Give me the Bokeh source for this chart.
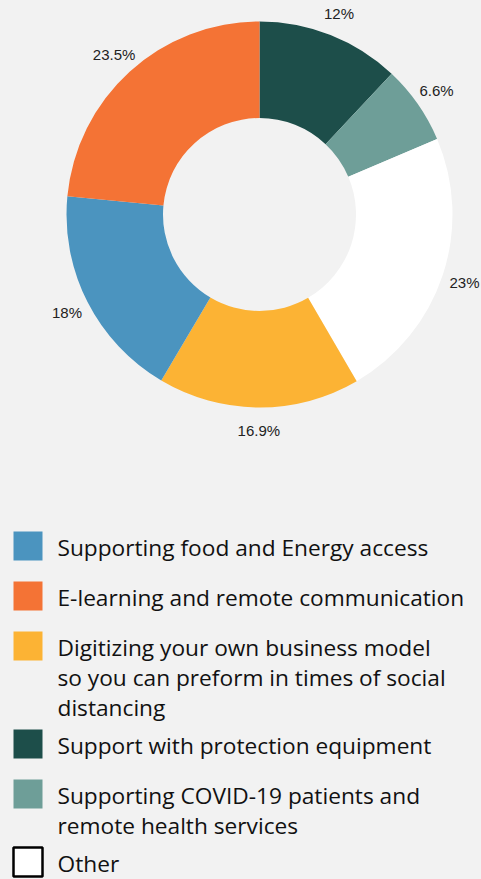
import math
from bokeh.plotting import figure
from bokeh.models import ColumnDataSource, Range1d, GlobalInlineStyleSheet
from bokeh.core.properties import value
from bokeh.embed import file_html
from bokeh.resources import INLINE

# ---- data ----
slice_names = ["Support with protection equipment",
               "Supporting COVID-19 patients and remote health services",
               "Other",
               "Digitizing your own business model",
               "Supporting food and Energy access",
               "E-learning and remote communication"]
slice_values = [12, 6.6, 23, 16.9, 18, 23.5]
slice_labels = ["12%", "6.6%", "23%", "16.9%", "18%", "23.5%"]
slice_colors = ["#1D4E4A", "#6E9E98", "#FFFFFF", "#FCB334", "#4B94BF", "#F47335"]

legend_names = ["Supporting food and Energy access",
                "E-learning and remote communication",
                "Digitizing your own business model",
                "Support with protection equipment",
                "Supporting COVID-19 patients and remote health services",
                "Other"]
legend_texts = ["Supporting food and Energy access",
                "E-learning and remote communication",
                "Digitizing your own business model\nso you can preform in times of social\ndistancing",
                "Support with protection equipment",
                "Supporting COVID-19 patients and\nremote health services",
                "Other"]

# ---- layout ----
W, H = 481, 879
BG = "#F2F2F2"
def Y(page_y):
    return H - page_y
def X(page_x):
    return page_x

cx, cy = X(259), Y(214)
r_out, r_in = 193, 96.5
r_lab = 216

p = figure(width=W, height=H, output_backend="svg", toolbar_location=None,
           x_range=Range1d(0, W), y_range=Range1d(0, H),
           background_fill_color=BG, border_fill_color=BG,
           min_border=0, outline_line_color=None)
p.axis.visible = False
p.grid.visible = False
p.stylesheets = [GlobalInlineStyleSheet(css="body{background:#f2f2f2;}")]

total = sum(slice_values)
starts, ends, lx, ly = [], [], [], []
cum = 0.0
for v in slice_values:
    a0 = math.pi / 2 - 2 * math.pi * (cum + v) / total
    a1 = math.pi / 2 - 2 * math.pi * cum / total
    starts.append(a0)
    ends.append(a1)
    mid = (a0 + a1) / 2
    lx.append(cx + r_lab * math.cos(mid))
    ly.append(cy + r_lab * math.sin(mid))
    cum += v

src = ColumnDataSource(dict(start=starts, end=ends, color=slice_colors,
                            lx=lx, ly=ly, label=slice_labels, name=slice_names))
p.annular_wedge(x=cx, y=cy, inner_radius=r_in, outer_radius=r_out,
                start_angle="start", end_angle="end", fill_color="color",
                line_color=None, source=src)
p.text(x="lx", y="ly", text="label", source=src, text_align="center",
       text_baseline="middle", text_font=value("Liberation Sans"),
       text_font_size="15px", text_color="#222222")

# ---- legend ----
color_of = dict(zip(slice_names, slice_colors))
first_mid = 547
line_h = 30
sq = 29
gap_single = 21
gap_multi = 8
sx, sy, sc, slc = [], [], [], []
tx, ty, tt = [], [], []
mid = first_mid
for name, txt in zip(legend_names, legend_texts):
    lines = txt.split("\n")
    col = color_of[name]
    sx.append(X(13 + sq / 2))
    sy.append(Y(mid - 16 + sq / 2))
    sc.append(col)
    slc.append("#000000" if col.upper() == "#FFFFFF" else None)
    for i, ln in enumerate(lines):
        tx.append(X(57))
        ty.append(Y(mid + i * line_h))
        tt.append(ln)
    mid += max(sq + gap_single, len(lines) * line_h + gap_multi)

sq_src = ColumnDataSource(dict(x=sx, y=sy, color=sc, lc=slc))
p.rect(x="x", y="y", width=sq, height=sq, fill_color="color",
       line_color="lc", line_width=2.5, source=sq_src)
txt_src = ColumnDataSource(dict(x=tx, y=ty, t=tt))
p.text(x="x", y="y", text="t", source=txt_src, text_align="left",
       text_baseline="middle", text_font=value("Open Sans"),
       text_font_size="22.7px", text_color="#111111")

open("out.html", "w").write(file_html(p, INLINE))
